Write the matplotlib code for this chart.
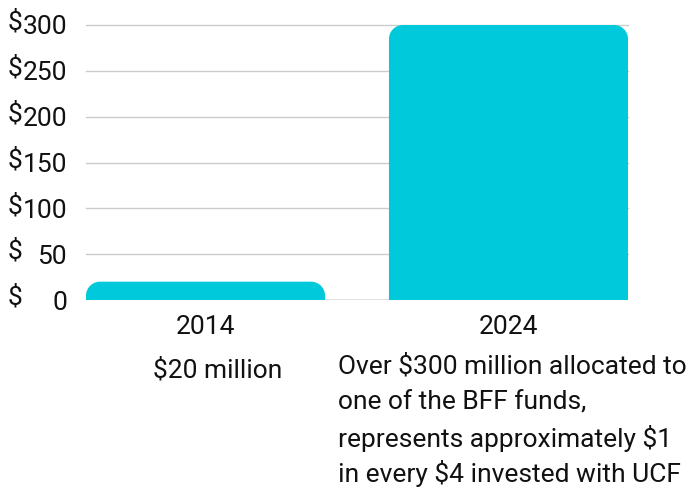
import matplotlib
matplotlib.use("Agg")
import matplotlib.pyplot as plt
from matplotlib.path import Path
from matplotlib.patches import PathPatch

plt.rcParams['font.family'] = ['Roboto', 'DejaVu Sans']

years = ["2014", "2024"]
values = [20, 300]
note_2014 = ["$20 million"]
note_2024 = ["Over $300 million allocated to",
             "one of the BFF funds,",
             "represents approximately $1",
             "in every $4 invested with UCF"]
yticks = [0, 50, 100, 150, 200, 250, 300]
ytick_labels = ["0", "50", "100", "150", "200", "250", "300"]

W, H = 693, 487
fig = plt.figure(figsize=(W / 100, H / 100), dpi=100)
ax = fig.add_axes([86 / W, 187 / H, 542 / W, 275 / H])

color = "#00C9DB"
txt = "#111111"
xs = list(range(len(years)))
bw = 0.789
bars = ax.bar(xs, values, width=bw, color="none", edgecolor="none")
ax.set_xlim(-0.3945, 1.3945)
ax.set_ylim(0, 300)

# rounded top corners
px_x = 542 / 1.789
px_y = 275 / 300
r_px = 14
k = 0.5523
for b in bars:
    x0 = b.get_x(); x1 = x0 + b.get_width(); h = b.get_height()
    rx = r_px / px_x
    ry = min(r_px / px_y, h)
    verts = [(x0, 0), (x0, h - ry),
             (x0, h - ry + k * ry), (x0 + rx - k * rx, h), (x0 + rx, h),
             (x1 - rx, h),
             (x1 - rx + k * rx, h), (x1, h - ry + k * ry), (x1, h - ry),
             (x1, 0), (x0, 0)]
    codes = [Path.MOVETO, Path.LINETO,
             Path.CURVE4, Path.CURVE4, Path.CURVE4,
             Path.LINETO,
             Path.CURVE4, Path.CURVE4, Path.CURVE4,
             Path.LINETO, Path.CLOSEPOLY]
    ax.add_patch(PathPatch(Path(verts, codes), facecolor=color, edgecolor="none", zorder=3))

for y in yticks[1:]:
    ax.axhline(y, color="#cccccc", lw=1, zorder=1, clip_on=False)
ax.axhline(0, color="#666666", lw=1, zorder=2)

for s in ax.spines.values():
    s.set_visible(False)
ax.set_xticks([])
ax.set_yticks([])

fs = 19
for y, lab in zip(yticks, ytick_labels):
    ax.annotate(lab, xy=(0, y), xycoords=("axes fraction", "data"),
                xytext=(-19, 0), textcoords="offset pixels",
                ha="right", va="center_baseline", fontsize=fs, color=txt)
    ax.annotate("$", xy=(0, y), xycoords=("axes fraction", "data"),
                xytext=(-78, 5), textcoords="offset pixels",
                ha="left", va="center_baseline", fontsize=fs, color=txt)

for x, yr in zip(xs, years):
    ax.annotate(yr, xy=(x, 0), xycoords="data", xytext=(0, -34),
                textcoords="offset pixels", ha="center", va="baseline",
                fontsize=fs, color=txt)

ax.annotate(note_2014[0], xy=(0, 0), xycoords="data", xytext=(12, -77.5),
            textcoords="offset pixels", ha="center", va="baseline",
            fontsize=fs, color=txt)
offs = [-73, -109.5, -146.5, -182]
for line, dy in zip(note_2024, offs):
    ax.annotate(line, xy=(1, 0), xycoords="data", xytext=(-170.5, dy),
                textcoords="offset pixels", ha="left", va="baseline",
                fontsize=fs, color=txt)

fig.savefig("out.png", dpi=100)
